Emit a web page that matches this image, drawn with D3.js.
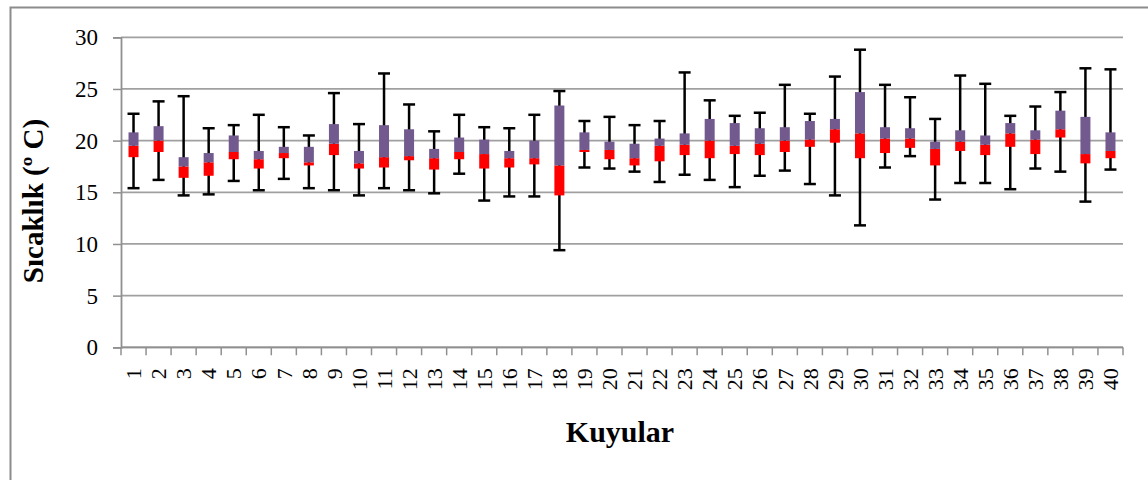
<!DOCTYPE html>
<html>
<head>
<meta charset="utf-8">
<script src="https://cdn.jsdelivr.net/npm/d3@7"></script>
<style>
    body { margin: 0; background: #fff; }
    svg text { font-family: "Liberation Serif", "Times New Roman", serif; fill: #000; }
</style>
</head>
<body>
<svg id="box-plot"></svg>
<script>
// Kuyular 1..40 - min, Q1, median, Q3, max (°C)
const wells = d3.range(1, 41).map(String);
const minVals = [15.4, 16.2, 14.7, 14.8, 16.1, 15.2, 16.3, 15.4, 15.2, 14.7,
                 15.4, 15.2, 14.9, 16.8, 14.2, 14.6, 14.6, 9.4, 17.4, 17.3,
                 17.0, 16.0, 16.7, 16.2, 15.5, 16.6, 17.1, 15.8, 14.7, 11.8,
                 17.4, 18.5, 14.3, 15.9, 15.9, 15.3, 17.3, 17.0, 14.1, 17.2];
const q1Vals = [18.4, 18.9, 16.4, 16.6, 18.2, 17.3, 18.3, 17.6, 18.6, 17.3,
                17.4, 18.1, 17.2, 18.2, 17.3, 17.4, 17.7, 14.7, 18.9, 18.2,
                17.6, 18.0, 18.6, 18.3, 18.7, 18.6, 18.9, 19.4, 19.8, 18.3,
                18.8, 19.3, 17.6, 19.0, 18.6, 19.4, 18.7, 20.3, 17.8, 18.3];
const medVals = [19.5, 20.0, 17.5, 17.9, 18.9, 18.2, 18.8, 17.9, 19.7, 17.8,
                 18.4, 18.5, 18.3, 18.9, 18.7, 18.3, 18.3, 17.6, 19.1, 19.1,
                 18.3, 19.5, 19.6, 20.0, 19.5, 19.7, 20.0, 20.1, 21.1, 20.7,
                 20.2, 20.2, 19.2, 19.9, 19.6, 20.7, 20.1, 21.1, 18.7, 19.0];
const q3Vals = [20.8, 21.4, 18.4, 18.8, 20.5, 19.0, 19.4, 19.4, 21.6, 19.0,
                21.5, 21.1, 19.2, 20.3, 20.1, 19.0, 20.0, 23.4, 20.8, 19.9,
                19.7, 20.2, 20.7, 22.1, 21.7, 21.2, 21.3, 21.9, 22.1, 24.7,
                21.3, 21.2, 19.9, 21.0, 20.5, 21.7, 21.0, 22.9, 22.3, 20.8];
const maxVals = [22.6, 23.8, 24.3, 21.2, 21.5, 22.5, 21.3, 20.5, 24.6, 21.6,
                 26.5, 23.5, 20.9, 22.5, 21.3, 21.2, 22.5, 24.8, 21.9, 22.3,
                 21.5, 21.9, 26.6, 23.9, 22.4, 22.7, 25.4, 22.6, 26.2, 28.8,
                 25.4, 24.2, 22.1, 26.3, 25.5, 22.4, 23.3, 24.7, 27.0, 26.9];
const yTicks = [0, 5, 10, 15, 20, 25, 30];

const width = 1148, height = 480;
const margin = { top: 37.3, right: 25, bottom: 132.7, left: 121 };

const rows = wells.map((w, i) => ({
    well: w, min: minVals[i], q1: q1Vals[i], med: medVals[i], q3: q3Vals[i], max: maxVals[i]
}));

const svg = d3.select("#box-plot")
    .attr("width", width)
    .attr("height", height);

// outer chart frame (only left and top edges are visible)
svg.append("rect")
    .attr("x", 10.5)
    .attr("y", 7.5)
    .attr("width", 1300)
    .attr("height", 700)
    .attr("fill", "none")
    .attr("stroke", "#8c8c8c")
    .attr("stroke-width", 2);

// Scales
let x = d3.scaleBand()
    .domain(wells)
    .range([margin.left, width - margin.right]);

let y = d3.scaleLinear()
    .domain([0, 30])
    .range([height - margin.bottom, margin.top]);

// Gridlines
svg.append("g")
    .selectAll("line")
    .data(yTicks)
    .join("line")
    .attr("x1", margin.left)
    .attr("x2", width - margin.right)
    .attr("y1", d => y(d))
    .attr("y2", d => y(d))
    .attr("stroke", "#a0a0a0")
    .attr("stroke-width", 1.8);

// Y axis
let yAxis = g => g
    .attr("transform", `translate(${margin.left},0)`)
    .call(d3.axisLeft(y).tickValues(yTicks).tickSize(8).tickPadding(15))
    .call(g => g.selectAll("line").attr("stroke", "#909090").attr("stroke-width", 1.5))
    .call(g => g.select(".domain").attr("stroke", "#909090").attr("stroke-width", 1.8))
    .call(g => g.selectAll("text").attr("font-size", 23).attr("font-family", "Liberation Serif"));

svg.append("g").call(yAxis);

// X axis - labels at band centres, ticks on band edges
let xAxis = g => g
    .attr("transform", `translate(0,${y(0)})`)
    .call(d3.axisBottom(x).tickSize(0))
    .call(g => g.select(".domain").remove())
    .call(g => g.selectAll("text")
        .attr("font-size", 22)
        .attr("font-family", "Liberation Serif")
        .attr("transform", "rotate(-90)")
        .attr("text-anchor", "end")
        .attr("x", -21)
        .attr("y", 0)
        .attr("dy", "0.35em"));

svg.append("g").call(xAxis);

let edges = wells.map(w => x(w)).concat([x.range()[1]]);
svg.append("g")
    .selectAll("line")
    .data(edges)
    .join("line")
    .attr("x1", d => d)
    .attr("x2", d => d)
    .attr("y1", y(0))
    .attr("y2", y(0) + 8)
    .attr("stroke", "#909090")
    .attr("stroke-width", 1.5);

svg.append("line")
    .attr("x1", margin.left)
    .attr("x2", width - margin.right)
    .attr("y1", y(0))
    .attr("y2", y(0))
    .attr("stroke", "#909090")
    .attr("stroke-width", 1.8);

// Whiskers
let cx = d => x(d.well) + x.bandwidth() / 2;
let capW = 12, boxW = 10;

let whisk = svg.append("g").attr("stroke", "#000").attr("stroke-width", 2.5);

whisk.selectAll(".stem")
    .data(rows)
    .join("line")
    .attr("class", "stem")
    .attr("x1", cx).attr("x2", cx)
    .attr("y1", d => y(d.max))
    .attr("y2", d => y(d.min));

whisk.selectAll(".capTop")
    .data(rows)
    .join("line")
    .attr("class", "capTop")
    .attr("x1", d => cx(d) - capW / 2).attr("x2", d => cx(d) + capW / 2)
    .attr("y1", d => y(d.max)).attr("y2", d => y(d.max));

whisk.selectAll(".capBot")
    .data(rows)
    .join("line")
    .attr("class", "capBot")
    .attr("x1", d => cx(d) - capW / 2).attr("x2", d => cx(d) + capW / 2)
    .attr("y1", d => y(d.min)).attr("y2", d => y(d.min));

// Boxes: red Q1-median, purple median-Q3
svg.append("g")
    .selectAll("rect")
    .data(rows)
    .join("rect")
    .attr("x", d => cx(d) - boxW / 2)
    .attr("y", d => y(d.med))
    .attr("width", boxW)
    .attr("height", d => y(d.q1) - y(d.med))
    .attr("fill", "#ff0000");

svg.append("g")
    .selectAll("rect")
    .data(rows)
    .join("rect")
    .attr("x", d => cx(d) - boxW / 2)
    .attr("y", d => y(d.q3))
    .attr("width", boxW)
    .attr("height", d => y(d.med) - y(d.q3))
    .attr("fill", "#725a8f");

// Axis titles
svg.append("text")
    .attr("transform", "translate(43,201) rotate(-90)")
    .attr("text-anchor", "middle")
    .attr("font-size", 29)
    .attr("font-weight", "bold")
    .text("Sıcaklık  (º C)");

svg.append("text")
    .attr("x", 620)
    .attr("y", 442)
    .attr("text-anchor", "middle")
    .attr("font-size", 30)
    .attr("font-weight", "bold")
    .text("Kuyular");
</script>
</body>
</html>
